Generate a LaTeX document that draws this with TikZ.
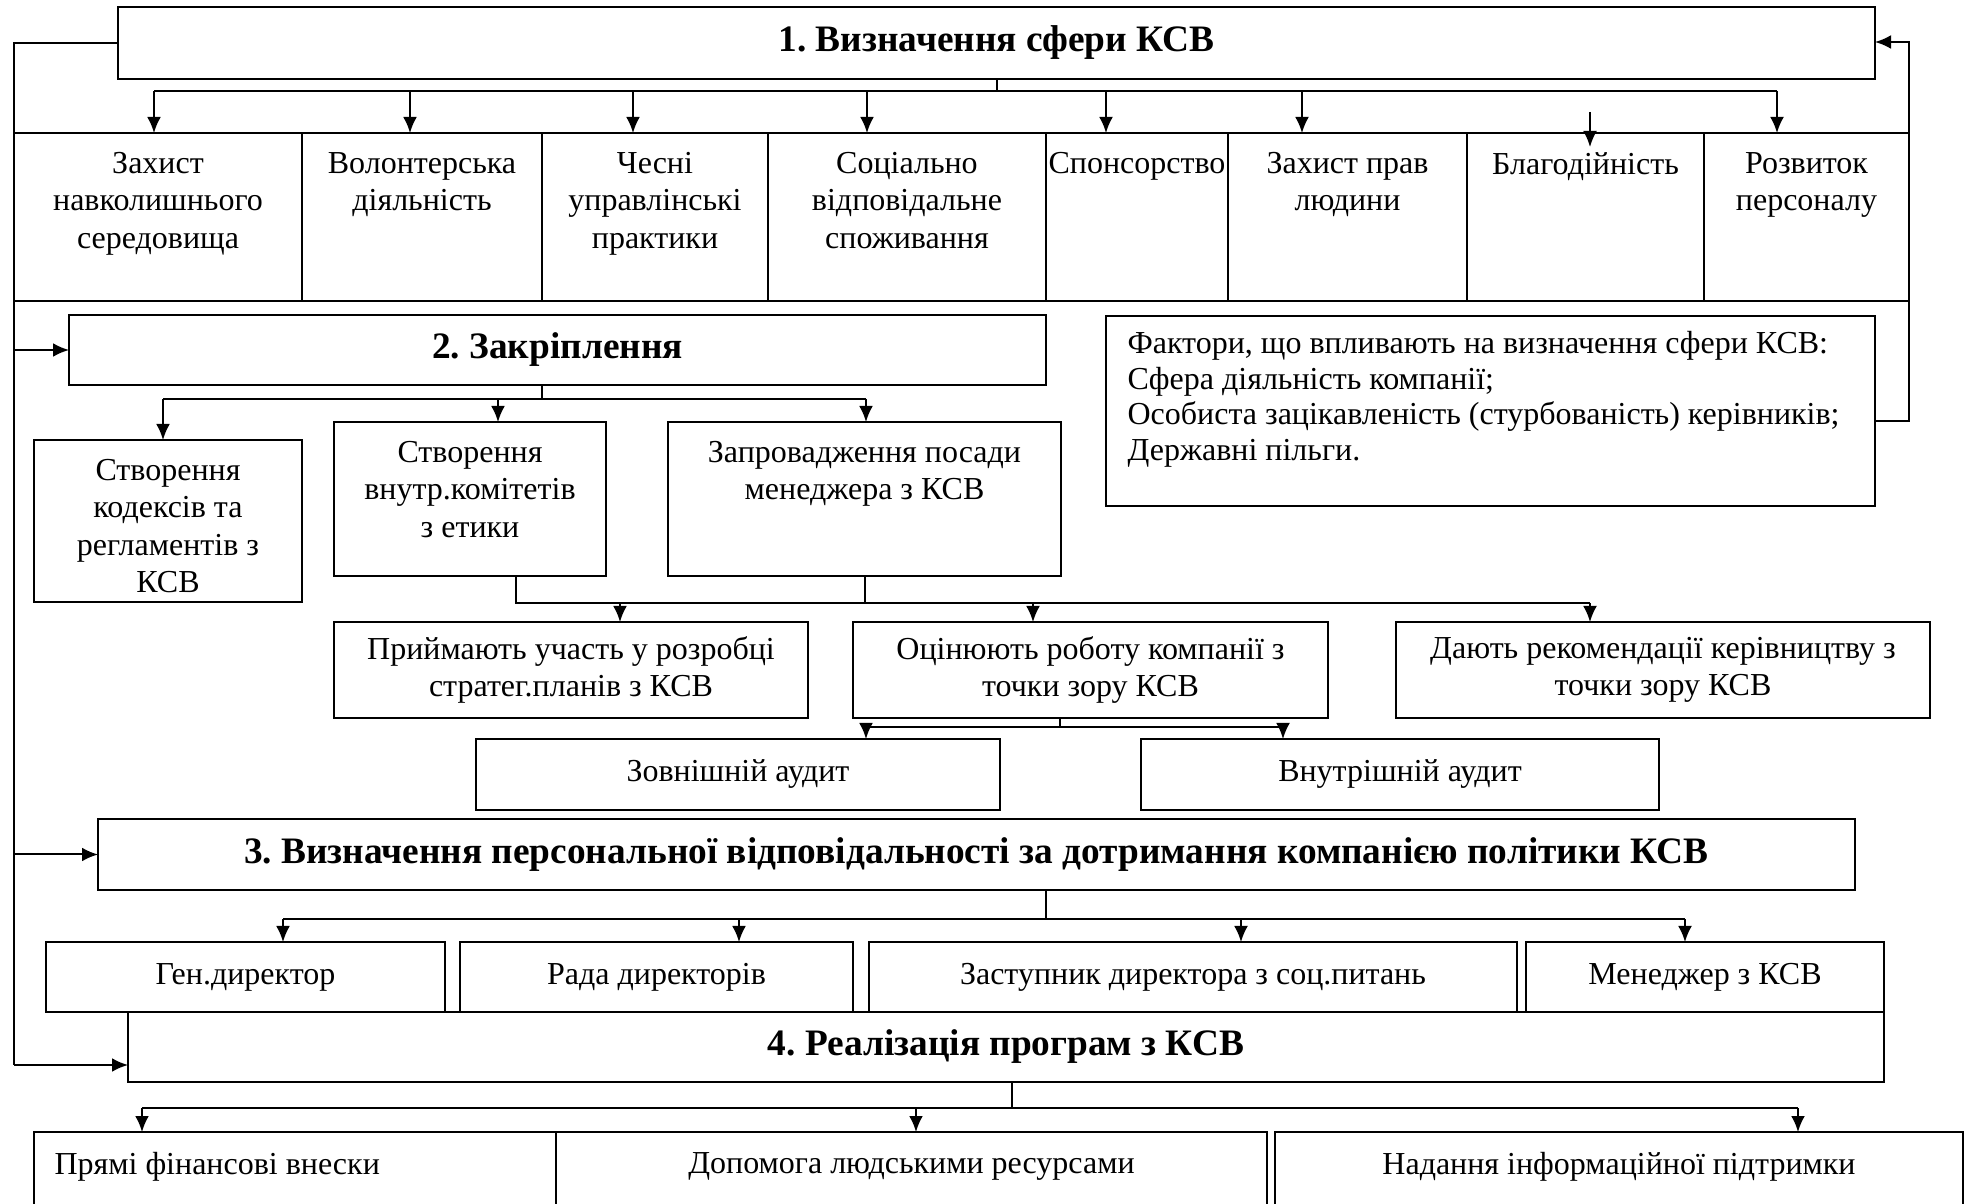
\documentclass[tikz,border=0pt]{standalone}
\usepackage{fontspec}
\setmainfont{Liberation Serif}
\frenchspacing
\usepackage{tikz}
\usetikzlibrary{arrows.meta,positioning}
\tikzset{every picture/.style={
  >={Latex[length=6pt,width=5.2pt]}   % Filled triangular arrows.
  }
}

\begin{document}
\begin{tikzpicture}[
    x=0.375pt, y=-0.375pt,      % One unit is one pixel of the page.
    box/.style={                % Framed boxes, placed by their top left corner.
      rectangle,
      draw,
      line width=0.75pt,
      inner sep=0pt,
      outer sep=0pt,
      anchor=north west,
      align=center,
      font=\fontsize{12}{14}\selectfont
    },
    cell/.style={               % Cells of the row of CSR areas.
      rectangle,
      draw,
      line width=0.45pt,
      inner sep=0pt,
      outer sep=0pt
    },
    sz/.style 2 args={          % Size of a box in pixels.
      minimum width=#1*0.375pt,
      minimum height=#2*0.375pt
    },
    ttl/.style={                % Stage headings.
      font=\fontsize{14}{16}\selectfont\bfseries
    },
    txt/.style={                % Text hung from the top of a box.
      align=center,
      inner sep=0pt,
      font=\fontsize{12}{14}\selectfont
    },
    ln/.style={line width=0.75pt}]

    \useasboundingbox (0,0) rectangle (1969,1204);
    \clip (0,0) rectangle (1969,1204);

    % Stage 1 and the areas of CSR.
    \node[box,ttl,sz={1757}{72}] (s1) at (118,7) {1. Визначення сфери КСВ};
    \node[cell,sz={288}{168},anchor=north west] (c1) at (14,133) {};
    \node[cell,sz={240}{168}] (c2) [right=0pt of c1] {};
    \node[cell,sz={226}{168}] (c3) [right=0pt of c2] {};
    \node[cell,sz={278}{168}] (c4) [right=0pt of c3] {};
    \node[cell,sz={182}{168}] (c5) [right=0pt of c4] {};
    \node[cell,sz={239}{168}] (c6) [right=0pt of c5] {};
    \node[cell,sz={237}{168}] (c7) [right=0pt of c6] {};
    \node[cell,sz={205}{168}] (c8) [right=0pt of c7] {};
    \node[txt] (t1) [below=7pt of c1.north] {Захист\\навколишнього\\середовища};
    \node[txt] (t2) [below=7pt of c2.north] {Волонтерська\\діяльність};
    \node[txt] (t3) [below=7pt of c3.north] {Чесні\\управлінські\\практики};
    \node[txt] (t4) [below=7pt of c4.north] {Соціально\\відповідальне\\споживання};
    \node[txt] (t5) [below=7pt of c5.north] {Спонсорство};
    \node[txt] (t6) [below=7pt of c6.north] {Захист прав\\людини};
    \node[txt] (t7) [below=7pt of c7.north] {Благодійність};
    \node[txt] (t8) [below=7pt of c8.north] {Розвиток\\персоналу};

    % Stage 2 and its measures.
    \node[box,ttl,sz={977}{70}] (s2) at (69,315) {2. Закріплення};
    \node[box,sz={268}{162}] (kod) at (34,440) {};
    \node[box,sz={272}{154}] (kom) at (334,422) {};
    \node[box,sz={393}{154}] (zap) at (668,422) {};
    \node[box,sz={769}{190}] (fac) at (1106,316) {};
    \node[txt] (tkod) [below=7pt of kod.north] {Створення\\кодексів та\\регламентів з\\КСВ};
    \node[txt] (tkom) [below=7pt of kom.north] {Створення\\внутр.комітетів\\з етики};
    \node[txt] (tzap) [below=7pt of zap.north] {Запровадження посади\\менеджера з КСВ};
    \node[txt,align=left,font=\fontsize{12}{13.3}\selectfont] (tfac)
      [below right=5.6pt and 7.9pt of fac.north west]
      {Фактори, що впливають на визначення сфери КСВ:\\
       Сфера діяльність компанії;\\
       Особиста зацікавленість (стурбованість) керівників;\\
       Державні пільги.};

    % Tasks of the committees and managers.
    \node[box,sz={474}{96}] (pri) at (334,622) {Приймають участь у розробці\\стратег.планів з КСВ};
    \node[box,sz={475}{96}] (oci) at (853,622) {Оцінюють роботу компанії з\\точки зору КСВ};
    \node[box,sz={534}{96}] (dau) at (1396,622) {Дають рекомендації керівництву з\\точки зору КСВ};
    \node[box,sz={524}{71}] (zov) at (476,739) {Зовнішній аудит};
    \node[box,sz={518}{71}] (vnu) at (1141,739) {Внутрішній аудит};

    % Stage 3 and the persons in charge.
    \node[box,ttl,sz={1757}{71}] (s3) at (98,819)
      {3. Визначення персональної відповідальності за дотримання компанією політики КСВ};
    \node[box,sz={399}{70}] (gen) at (46,942) {Ген.директор};
    \node[box,sz={393}{70}] (rad) at (460,942) {Рада директорів};
    \node[box,sz={648}{70}] (zas) at (869,942) {Заступник директора з соц.питань};
    \node[box,sz={358}{70}] (men) at (1526,942) {Менеджер з КСВ};

    % Stage 4 and the kinds of support.
    \node[box,ttl,sz={1756}{70}] (s4) at (128,1012) {4. Реалізація програм з КСВ};
    \node[box,sz={522}{150}] (pry) at (34,1132) {};
    \node[box,sz={711}{150}] (dop) at (556,1132) {};
    \node[box,sz={688}{150}] (nad) at (1275,1132) {};
    \node[txt,align=left] (tpry) [below right=7.5pt and 7.5pt of pry.north west] {Прямі фінансові внески};
    \node[txt] (tdop) [below=7.5pt of dop.north] {Допомога людськими ресурсами};
    \node[txt] (tnad) [below=7.5pt of nad.north] {Надання інформаційної підтримки};

    % Branch points of the connectors.
    \coordinate (b1l) at (154,91);   \coordinate (b1r) at (1777,91);
    \coordinate (bl)  at (1590,112); \coordinate (bl2) at (1590,147);
    \coordinate (b2s) at (542,399);  \coordinate (b2l) at (163,399);  \coordinate (b2r) at (866,399);
    \coordinate (b3l) at (516,603);  \coordinate (b3r) at (1590,603);
    \coordinate (b4s) at (1060,727); \coordinate (b4l) at (866,727);  \coordinate (b4r) at (1283,727);
    \coordinate (b5s) at (1046,919); \coordinate (b5l) at (283,919);  \coordinate (b5r) at (1685,919);
    \coordinate (b6s) at (1012,1108);\coordinate (b6l) at (142,1108); \coordinate (b6r) at (1798,1108);
    \coordinate (lt)  at (14,43);    \coordinate (lb)  at (14,1065);
    \coordinate (rt)  at (1909,42);  \coordinate (rb)  at (1909,421);

    % Stage 1 to the areas.
    \draw[ln] (s1.south) -- (s1.south |- b1l);
    \draw[ln] (b1l) -- (b1r);
    \foreach \xx/\cc in {154/c1,410/c2,633/c3,867/c4,1106/c5,1302/c6,1777/c8}
      \draw[ln,->] (\xx,91) -- (\xx,91 |- \cc.north);
    \draw[ln,->] (bl) -- (bl2);

    % Stage 2 to its measures.
    \draw[ln] (b2s |- s2.south) -- (b2s);
    \draw[ln] (b2l) -- (b2r);
    \draw[ln,->] (b2l) -- (b2l |- kod.north);
    \draw[ln,->] (498,399) -- (498,399 |- kom.north);
    \draw[ln,->] (b2r) -- (b2r |- zap.north);

    % Committees and managers to their tasks.
    \draw[ln] (b3l |- kom.south) -- (b3l) -- (b3r);
    \draw[ln] (zap.south) -- (zap.south |- b3l);
    \foreach \xx/\cc in {620/pri,1033/oci,1590/dau}
      \draw[ln,->] (\xx,603) -- (\xx,603 |- \cc.north);

    % Assessment to the audits.
    \draw[ln] (b4s |- oci.south) -- (b4s);
    \draw[ln] (b4l) -- (b4r);
    \draw[ln,->] (b4l) -- (b4l |- zov.north);
    \draw[ln,->] (b4r) -- (b4r |- vnu.north);

    % Stage 3 to the persons in charge.
    \draw[ln] (b5s |- s3.south) -- (b5s);
    \draw[ln] (b5l) -- (b5r);
    \foreach \xx/\cc in {283/gen,739/rad,1241/zas,1685/men}
      \draw[ln,->] (\xx,919) -- (\xx,919 |- \cc.north);

    % Stage 4 to the kinds of support.
    \draw[ln] (b6s |- s4.south) -- (b6s);
    \draw[ln] (b6l) -- (b6r);
    \foreach \xx/\cc in {142/pry,916/dop,1798/nad}
      \draw[ln,->] (\xx,1108) -- (\xx,1108 |- \cc.north);

    % Feedback lines on the left and on the right.
    \draw[ln] (s1.west) -- (s1.west -| lt) -- (lb);
    \draw[ln,->] (lt |- s2.west) -- (s2.west);
    \draw[ln,->] (lt |- s3.west) -- (s3.west);
    \draw[ln,->] (lb) -- (lb -| s4.west);
    \draw[ln,->] (rb -| fac.east) -- (rb) -- (rt) -- (rt -| s1.east);
  \end{tikzpicture}
\end{document}
